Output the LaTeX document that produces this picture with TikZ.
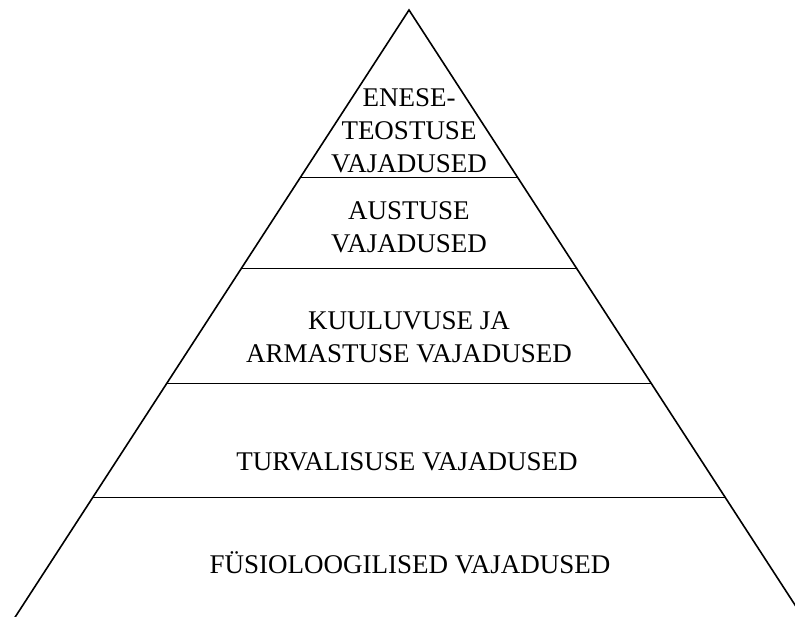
\documentclass[tikz,border=0pt]{standalone}
\usepackage{fontspec}
\setmainfont{Liberation Serif}
\usetikzlibrary{calc}

\begin{document}
\begin{tikzpicture}[x=1pt,y=-1pt,font=\fontsize{27}{33}\selectfont]
        \useasboundingbox (0,0) rectangle (795,616);
        \coordinate (apex) at (409,10);
        \coordinate (left) at (10,625);
        \coordinate (right) at (808,625);
        \draw[line width=1.6pt] (left) -- (apex) -- (right);

        % levels
        \draw[line width=1pt] ($(apex)!0.273!(left)$) -- ($(apex)!0.273!(right)$);
        \draw[line width=1pt] ($(apex)!0.421!(left)$) -- ($(apex)!0.421!(right)$);
        \draw[line width=1pt] ($(apex)!0.607!(left)$) -- ($(apex)!0.607!(right)$);
        \draw[line width=1pt] ($(apex)!0.793!(left)$) -- ($(apex)!0.793!(right)$);

        \node[align=center] (self) at (409,130.5) {ENESE-\\TEOSTUSE\\VAJADUSED};
        \node[align=center] (esteem) at (409,227) {AUSTUSE\\VAJADUSED};
        \node[align=center] (love) at (409,337) {KUULUVUSE JA\\ARMASTUSE VAJADUSED};
        \node[anchor=base] (safety) at (407,470) {TURVALISUSE VAJADUSED};
        \node[anchor=base] (body) at (410,573) {FÜSIOLOOGILISED VAJADUSED};
    \end{tikzpicture}
\end{document}
